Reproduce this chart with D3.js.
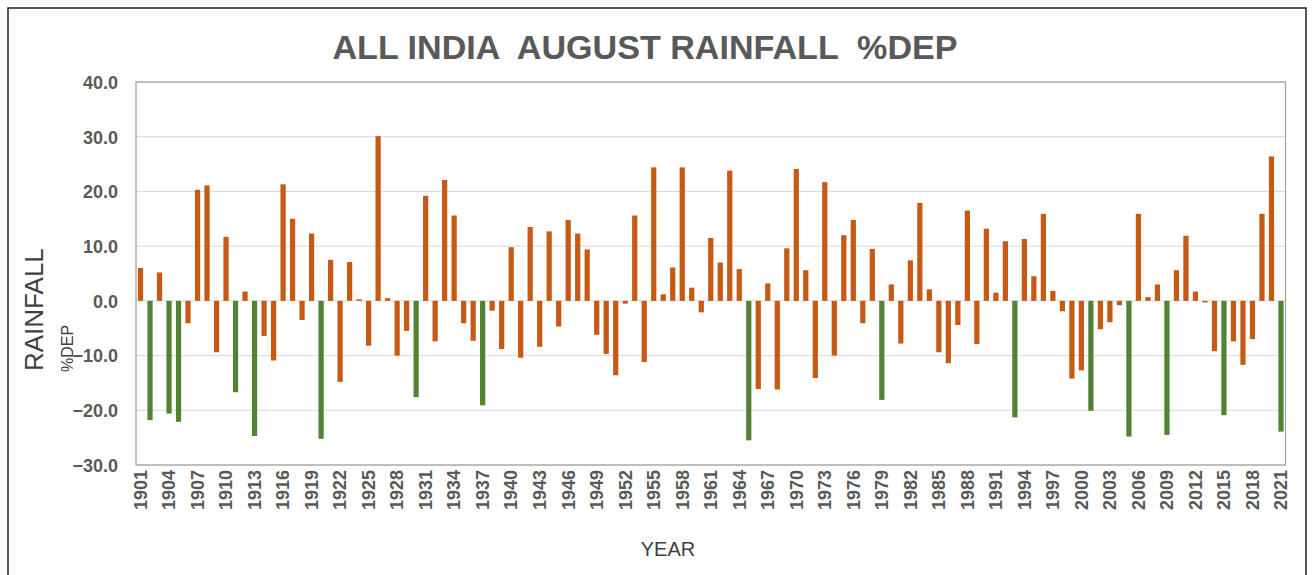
<!DOCTYPE html>
<html>
<head>
<meta charset="utf-8">
<script src="https://cdn.jsdelivr.net/npm/d3@7"></script>
<style>
  body { margin: 0; background: #fff; }
  text { font-family: "Liberation Sans", Arial, sans-serif; }
</style>
</head>
<body>
<script>
// year categories and % departure of August rainfall
var years = d3.range(1901, 2022);
var depValues = [
  6.0, -21.8, 5.2, -20.6, -22.1, -4.1, 20.3, 21.1, -9.4, 11.7,
  -16.7, 1.7, -24.7, -6.4, -10.9, 21.3, 15.0, -3.5, 12.3, -25.2,
  7.5, -14.8, 7.1, 0.3, -8.2, 30.1, 0.5, -10.0, -5.5, -17.6,
  19.2, -7.4, 22.1, 15.6, -4.1, -7.3, -19.1, -1.8, -8.8, 9.8,
  -10.4, 13.5, -8.4, 12.7, -4.7, 14.8, 12.3, 9.4, -6.2, -9.7,
  -13.6, -0.5, 15.6, -11.2, 24.4, 1.2, 6.1, 24.4, 2.4, -2.1,
  11.5, 7.0, 23.8, 5.8, -25.5, -16.1, 3.2, -16.2, 9.6, 24.1,
  5.6, -14.1, 21.7, -10.0, 12.0, 14.8, -4.1, 9.5, -18.1, 3.0,
  -7.8, 7.4, 17.9, 2.1, -9.4, -11.4, -4.4, 16.5, -7.9, 13.2,
  1.5, 10.9, -21.3, 11.3, 4.5, 15.9, 1.8, -1.9, -14.2, -12.7,
  -20.1, -5.2, -3.9, -0.8, -24.8, 15.9, 0.7, 3.0, -24.5, 5.6,
  11.9, 1.7, -0.3, -9.2, -20.9, -7.4, -11.7, -7.0, 15.9, 26.4,
  -23.9
];
// years shown in green
var droughtYears = [1902, 1904, 1905, 1911, 1913, 1920, 1930, 1937, 1965, 1979, 1993, 2001, 2005, 2009, 2015, 2021];
var yTicks = [40, 30, 20, 10, 0, -10, -20, -30];
var xTickYears = years.filter(function(y){ return (y - 1901) % 3 === 0; });

var width = 1312, height = 575;
var plotL = 136, plotR = 1285.5, plotT = 82, plotB = 465;

var data = years.map(function(y, i){ return {year: y, value: depValues[i]}; });

var svg = d3.select("body").append("svg")
    .attr("width", width)
    .attr("height", height);

// outer frame
svg.append("rect")
    .attr("x", 8).attr("y", 8)
    .attr("width", 1298).attr("height", 580)
    .attr("fill", "none")
    .attr("stroke", "#222")
    .attr("stroke-width", 1.5);

var x = d3.scaleBand()
    .domain(years)
    .range([plotL, plotR])
    .paddingInner(0.45)
    .paddingOuter(0.2);

var y = d3.scaleLinear()
    .domain([-30, 40])
    .range([plotB, plotT]);

// gridlines
svg.append("g")
    .selectAll("line")
    .data(yTicks)
    .enter().append("line")
    .attr("x1", plotL).attr("x2", plotR)
    .attr("y1", function(d){ return y(d); })
    .attr("y2", function(d){ return y(d); })
    .attr("stroke", "#d9d9d9")
    .attr("stroke-width", 1);

// plot frame
svg.append("rect")
    .attr("x", plotL).attr("y", plotT)
    .attr("width", plotR - plotL).attr("height", plotB - plotT)
    .attr("fill", "none")
    .attr("stroke", "#a0a0a0")
    .attr("stroke-width", 1.2);

// bars
svg.append("g")
    .selectAll("rect")
    .data(data)
    .enter().append("rect")
    .attr("x", function(d){ return x(d.year); })
    .attr("width", x.bandwidth())
    .attr("y", function(d){ return y(Math.max(0, d.value)); })
    .attr("height", function(d){ return Math.abs(y(d.value) - y(0)); })
    .attr("fill", function(d){
        return droughtYears.indexOf(d.year) >= 0 ? "#548235" : "#c65a14";
    });

// y axis labels
var yAxis = svg.append("g")
    .attr("transform", "translate(" + (plotL - 18) + ",0)")
    .call(d3.axisLeft(y).tickValues(yTicks).tickSize(0).tickFormat(d3.format(".1f")));
yAxis.select(".domain").remove();
yAxis.selectAll("text")
    .attr("x", 0)
    .attr("dy", "0.35em")
    .style("font-size", "18px")
    .style("font-weight", "bold")
    .attr("fill", "#595959");

// x axis labels
var xAxis = svg.append("g")
    .attr("transform", "translate(0," + plotB + ")")
    .call(d3.axisBottom(x).tickValues(xTickYears).tickSize(0));
xAxis.select(".domain").remove();
xAxis.selectAll("text")
    .attr("transform", "rotate(-90)")
    .attr("x", -5)
    .attr("y", 0)
    .attr("dy", "0.35em")
    .style("text-anchor", "end")
    .style("font-size", "18px")
    .style("font-weight", "bold")
    .attr("fill", "#595959");

// title
svg.append("text")
    .attr("x", 645)
    .attr("y", 59)
    .attr("text-anchor", "middle")
    .attr("textLength", 625)
    .attr("lengthAdjust", "spacingAndGlyphs")
    .style("font-size", "34px")
    .style("font-weight", "bold")
    .attr("fill", "#595959")
    .attr("xml:space", "preserve")
    .text("ALL INDIA  AUGUST RAINFALL  %DEP");

// axis titles
svg.append("text")
    .attr("transform", "translate(43,371) rotate(-90)")
    .style("font-size", "26px")
    .attr("fill", "#404040")
    .text("RAINFALL");

svg.append("text")
    .attr("transform", "translate(73,372) rotate(-90)")
    .style("font-size", "16px")
    .attr("fill", "#404040")
    .text("%DEP");

svg.append("text")
    .attr("x", 668)
    .attr("y", 556)
    .attr("text-anchor", "middle")
    .style("font-size", "20px")
    .attr("fill", "#404040")
    .text("YEAR");
</script>
</body>
</html>
